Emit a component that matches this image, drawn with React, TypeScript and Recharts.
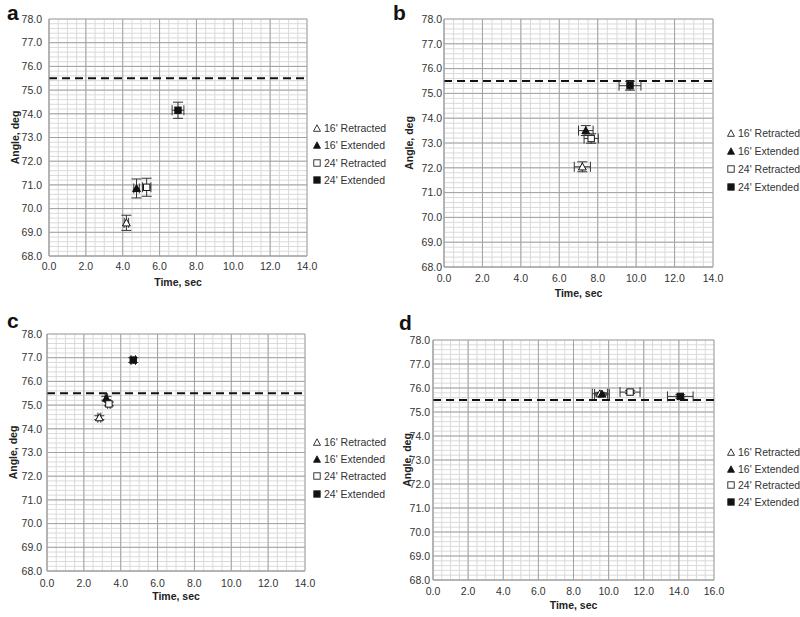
import React from "react";
import { ScatterChart, Scatter, XAxis, YAxis, CartesianGrid, ReferenceLine, ErrorBar, Label } from "recharts";

const seriesNames = ["16' Retracted", "16' Extended", "24' Retracted", "24' Extended"];

// panel a
const timeA = [4.2, 4.75, 5.3, 7.0];
const angleA = [69.4, 70.85, 70.9, 74.15];
const timeErrA = [0.12, 0.15, 0.23, 0.32];
const angleErrA = [0.32, 0.4, 0.38, 0.34];

// panel b
const timeB = [7.2, 7.38, 7.66, 9.68];
const angleB = [72.04, 73.5, 73.18, 75.31];
const timeErrB = [0.42, 0.38, 0.37, 0.57];
const angleErrB = [0.2, 0.2, 0.19, 0.18];

// panel c
const timeC = [2.84, 3.22, 3.36, 4.68];
const angleC = [74.47, 75.29, 75.05, 76.9];
const timeErrC = [0.08, 0.07, 0.07, 0.12];
const angleErrC = [0.08, 0.08, 0.08, 0.1];

// panel d
const timeD = [9.5, 9.62, 11.22, 14.08];
const angleD = [75.76, 75.75, 75.83, 75.65];
const timeErrD = [0.43, 0.42, 0.57, 0.73];
const angleErrD = [0.06, 0.05, 0.06, 0.07];

const xMajor14 = [0, 2, 4, 6, 8, 10, 12, 14];
const xMajor16 = [0, 2, 4, 6, 8, 10, 12, 14, 16];
const yMajor = [68, 69, 70, 71, 72, 73, 74, 75, 76, 77, 78];
const limitAngle = 75.5;

const FONT = "'Liberation Sans', Arial, sans-serif";

const minorTicks = (from: number, to: number, step: number) => {
  const out: number[] = [];
  const n = Math.round((to - from) / step);
  for (let i = 0; i <= n; i++) out.push(Math.round((from + i * step) * 100) / 100);
  return out;
};

const isMajor = (v: number, step: number) => Math.abs(v / step - Math.round(v / step)) < 1e-6;

const makeShape = (i: number) => (props: any) => {
  const { cx, cy } = props;
  if (cx == null || cy == null) return <g />;
  const fill = i % 2 === 1 ? "#111" : "#fff";
  if (i < 2) {
    const s = 3.9;
    return (
      <polygon
        points={`${cx},${cy - s} ${cx + s},${cy + s * 0.8} ${cx - s},${cy + s * 0.8}`}
        fill={fill}
        stroke="#111"
        strokeWidth={1}
      />
    );
  }
  const s = 3.2;
  return <rect x={cx - s} y={cy - s} width={2 * s} height={2 * s} fill={fill} stroke="#111" strokeWidth={1} />;
};

function LegendIcon({ i }: { i: number }) {
  const fill = i % 2 === 1 ? "#111" : "#fff";
  return (
    <svg width={8} height={8} style={{ marginRight: 3 }}>
      {i < 2 ? (
        <polygon points="4,0.8 7.5,7.3 0.5,7.3" fill={fill} stroke="#222" strokeWidth={0.9} />
      ) : (
        <rect x={0.8} y={0.8} width={6.4} height={6.4} fill={fill} stroke="#222" strokeWidth={0.9} />
      )}
    </svg>
  );
}

interface PanelProps {
  left: number;
  top: number;
  width: number;
  height: number;
  margin: { top: number; right: number; left: number; bottom: number };
  yAxisWidth: number;
  xAxisHeight: number;
  yTickMargin: number;
  xTickMargin: number;
  xLabelY: number;
  yLabelX: number;
  xMax: number;
  xMajor: number[];
  time: number[];
  angle: number[];
  timeErr: number[];
  angleErr: number[];
  legendLeft: number;
  legendTop: number;
  legendRow: number;
}

function Panel(p: PanelProps) {
  const plotLeft = p.margin.left + p.yAxisWidth;
  const plotRight = p.width - p.margin.right;
  const plotTop = p.margin.top;
  const plotBottom = p.height - p.margin.bottom - p.xAxisHeight;
  const xMinor = minorTicks(0, p.xMax, 0.5);
  const yMinor = minorTicks(68, 78, 0.2);

  return (
    <>
      <div style={{ position: "absolute", left: p.left, top: p.top }}>
        <ScatterChart width={p.width} height={p.height} margin={p.margin}>
          <CartesianGrid stroke="#dadada" strokeWidth={1} />
          {p.xMajor.map((v) => (
            <ReferenceLine key={"x" + v} x={v} stroke="#a2a2a2" strokeWidth={1} />
          ))}
          {yMajor.map((v) => (
            <ReferenceLine key={"y" + v} y={v} stroke="#a2a2a2" strokeWidth={1} />
          ))}
          <XAxis
            type="number"
            dataKey="x"
            domain={[0, p.xMax]}
            ticks={xMinor}
            interval={0}
            tickFormatter={(v: number) => (isMajor(v, 2) ? v.toFixed(1) : "")}
            tickLine={false}
            tickSize={0}
            tickMargin={p.xTickMargin}
            axisLine={{ stroke: "#a2a2a2" }}
            height={p.xAxisHeight}
            tick={{ fontSize: 10.5, fill: "#333", fontFamily: FONT }}
            allowDataOverflow
            label={
              <Label
                content={() => (
                  <text
                    x={(plotLeft + plotRight) / 2}
                    y={p.xLabelY}
                    textAnchor="middle"
                    fontSize={10.5}
                    fontWeight="bold"
                    fill="#222"
                    fontFamily={FONT}
                  >
                    Time, sec
                  </text>
                )}
              />
            }
          />
          <YAxis
            type="number"
            dataKey="y"
            domain={[68, 78]}
            ticks={yMinor}
            interval={0}
            tickFormatter={(v: number) => (isMajor(v, 1) ? v.toFixed(1) : "")}
            tickLine={false}
            tickSize={0}
            tickMargin={p.yTickMargin}
            axisLine={{ stroke: "#a2a2a2" }}
            width={p.yAxisWidth}
            tick={{ fontSize: 10.5, fill: "#333", fontFamily: FONT }}
            allowDataOverflow
            label={
              <Label
                content={() => {
                  const cy = (plotTop + plotBottom) / 2;
                  return (
                    <text
                      x={p.yLabelX}
                      y={cy}
                      transform={`rotate(-90 ${p.yLabelX} ${cy})`}
                      textAnchor="middle"
                      dominantBaseline="central"
                      fontSize={10.5}
                      fontWeight="bold"
                      fill="#222"
                      fontFamily={FONT}
                    >
                      Angle, deg
                    </text>
                  );
                }}
              />
            }
          />
          <ReferenceLine y={limitAngle} stroke="#111" strokeWidth={2} strokeDasharray="8 5" />
          {seriesNames.map((name, i) => (
            <Scatter
              key={name}
              name={name}
              data={[{ x: p.time[i], y: p.angle[i], ex: p.timeErr[i], ey: p.angleErr[i] }]}
              shape={makeShape(i)}
              isAnimationActive={false}
            >
              <ErrorBar dataKey="ex" direction="x" width={5} stroke="#333" strokeWidth={1} isAnimationActive={false} />
              <ErrorBar dataKey="ey" direction="y" width={5} stroke="#333" strokeWidth={1} isAnimationActive={false} />
            </Scatter>
          ))}
        </ScatterChart>
      </div>
      <div
        style={{
          position: "absolute",
          left: p.legendLeft,
          top: p.legendTop,
          fontFamily: FONT,
          fontSize: 10.5,
          color: "#333",
        }}
      >
        {seriesNames.map((name, i) => (
          <div key={name} style={{ height: p.legendRow, display: "flex", alignItems: "center", whiteSpace: "nowrap" }}>
            <LegendIcon i={i} />
            <span>{name}</span>
          </div>
        ))}
      </div>
    </>
  );
}

export default function App() {
  return (
    <div style={{ position: "absolute", left: 0, top: 0, width: 800, height: 617, background: "#fff", overflow: "hidden" }}>
      <Panel
        left={0}
        top={0}
        width={400}
        height={300}
        margin={{ top: 19, right: 93, left: 0, bottom: 12 }}
        yAxisWidth={49}
        xAxisHeight={32}
        yTickMargin={7}
        xTickMargin={7}
        xLabelY={286}
        yLabelX={15}
        xMax={14}
        xMajor={xMajor14}
        time={timeA}
        angle={angleA}
        timeErr={timeErrA}
        angleErr={angleErrA}
        legendLeft={313}
        legendTop={119}
        legendRow={17.5}
      />
      <Panel
        left={400}
        top={0}
        width={400}
        height={300}
        margin={{ top: 19, right: 87, left: 0, bottom: 1 }}
        yAxisWidth={44}
        xAxisHeight={32}
        yTickMargin={2}
        xTickMargin={8}
        xLabelY={297}
        yLabelX={9}
        xMax={14}
        xMajor={xMajor14}
        time={timeB}
        angle={angleB}
        timeErr={timeErrB}
        angleErr={angleErrB}
        legendLeft={727}
        legendTop={123.5}
        legendRow={18}
      />
      <Panel
        left={0}
        top={300}
        width={400}
        height={317}
        margin={{ top: 34, right: 95, left: 0, bottom: 14 }}
        yAxisWidth={47}
        xAxisHeight={32}
        yTickMargin={5}
        xTickMargin={9}
        xLabelY={300}
        yLabelX={12.5}
        xMax={14}
        xMajor={xMajor14}
        time={timeC}
        angle={angleC}
        timeErr={timeErrC}
        angleErr={angleErrC}
        legendLeft={313}
        legendTop={433}
        legendRow={17.4}
      />
      <Panel
        left={400}
        top={300}
        width={400}
        height={317}
        margin={{ top: 40, right: 86, left: 0, bottom: 7 }}
        yAxisWidth={33}
        xAxisHeight={30}
        yTickMargin={3}
        xTickMargin={8}
        xLabelY={309}
        yLabelX={6.5}
        xMax={16}
        xMajor={xMajor16}
        time={timeD}
        angle={angleD}
        timeErr={timeErrD}
        angleErr={angleErrD}
        legendLeft={727}
        legendTop={444}
        legendRow={16.5}
      />
      <svg width={800} height={617} style={{ position: "absolute", left: 0, top: 0, pointerEvents: "none" }}>
        <text x={7} y={20} fontSize={21} fontWeight="bold" fontFamily={FONT} fill="#111">a</text>
        <text x={393} y={20} fontSize={21} fontWeight="bold" fontFamily={FONT} fill="#111">b</text>
        <text x={7} y={328} fontSize={21} fontWeight="bold" fontFamily={FONT} fill="#111">c</text>
        <text x={399} y={330} fontSize={21} fontWeight="bold" fontFamily={FONT} fill="#111">d</text>
      </svg>
    </div>
  );
}
